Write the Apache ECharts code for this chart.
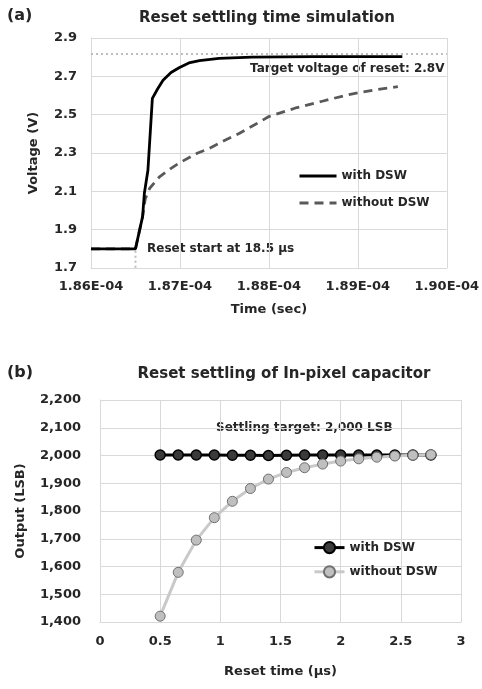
<!DOCTYPE html>
<html>
<head>
<meta charset="utf-8">
<script src="https://cdn.jsdelivr.net/npm/echarts@6/dist/echarts.min.js"></script>
<style>html,body{margin:0;padding:0;background:#fff;}#c{width:482px;height:689px;}</style>
</head>
<body>
<div id="c"></div>
<script>
// ---- Chart (a): Reset settling time simulation ----
const timeWithDSW = [1.8600e-4, 1.8650e-4, 1.8658e-4, 1.8660e-4, 1.8664e-4, 1.8669e-4, 1.8675e-4, 1.8681e-4, 1.8690e-4, 1.8699e-4, 1.8710e-4, 1.8722e-4, 1.8744e-4, 1.8781e-4, 1.8850e-4, 1.8950e-4];
const voltWithDSW = [1.80, 1.80, 1.968, 2.09, 2.21, 2.585, 2.635, 2.68, 2.72, 2.745, 2.77, 2.782, 2.794, 2.80, 2.803, 2.803];
const timeWithoutDSW = [1.8600e-4, 1.8650e-4, 1.8658e-4, 1.8661e-4, 1.8666e-4, 1.8677e-4, 1.8690e-4, 1.8700e-4, 1.8720e-4, 1.8733e-4, 1.8750e-4, 1.8767e-4, 1.8785e-4, 1.8800e-4, 1.8830e-4, 1.8860e-4, 1.8890e-4, 1.8920e-4, 1.8945e-4];
const voltWithoutDSW = [1.80, 1.80, 1.968, 2.06, 2.116, 2.176, 2.22, 2.25, 2.30, 2.324, 2.365, 2.403, 2.45, 2.49, 2.535, 2.57, 2.605, 2.63, 2.646];
const targetVoltage = 2.82;
const resetStartTime = 1.865e-4;
const seriesNamesA = ['with DSW', 'without DSW'];

// ---- Chart (b): Reset settling of In-pixel capacitor ----
const resetTimeUs = [0.5, 0.65, 0.8, 0.95, 1.1, 1.25, 1.4, 1.55, 1.7, 1.85, 2.0, 2.15, 2.3, 2.45, 2.6, 2.75];
const outputWithDSW = [2002, 2002, 2002, 2002, 2001, 2001, 2000, 2001, 2002, 2002, 2002, 2002, 2002, 2002, 2002, 2002];
const outputWithoutDSW = [1421, 1579, 1695, 1776, 1835, 1881, 1915, 1939, 1956, 1969, 1980, 1988, 1994, 1998, 2001, 2003];
const seriesNamesB = ['with DSW', 'without DSW'];

const FONT = 'DejaVu Sans';
const TXT = '#262626';
const GRID = '#d9d9d9';

function expLabel(v) {
  const parts = v.toExponential(2).split('e');
  const e = parseInt(parts[1], 10);
  return parts[0] + 'E' + (e < 0 ? '-' : '+') + String(Math.abs(e)).padStart(2, '0');
}
function commaLabel(v) {
  return Math.round(v).toString().replace(/\B(?=(\d{3})+(?!\d))/g, ',');
}
const zip = (xs, ys) => xs.map((x, i) => [x, ys[i]]);

const chart = echarts.init(document.getElementById('c'), null, {renderer: 'canvas'});
const axisLabelStyle = {color: TXT, fontFamily: FONT, fontWeight: 'bold', fontSize: 13};
const nameStyle = {color: TXT, fontFamily: FONT, fontWeight: 'bold', fontSize: 13};

chart.setOption({
  backgroundColor: '#fff',
  animation: false,
  title: [
    {text: 'Reset settling time simulation', left: 262, top: 6, textAlign: 'center',
     textStyle: {fontFamily: FONT, fontWeight: 'bold', fontSize: 15, color: TXT}},
    {text: 'Reset settling of In-pixel capacitor', left: 279, top: 362, textAlign: 'center',
     textStyle: {fontFamily: FONT, fontWeight: 'bold', fontSize: 15, color: TXT}}
  ],
  grid: [
    {left: 91, top: 38, width: 358, height: 230},
    {left: 100, top: 400, width: 361, height: 222}
  ],
  xAxis: [
    {type: 'value', gridIndex: 0, min: 1.86e-4, max: 1.90e-4, interval: 1e-6,
     name: 'Time (sec)', nameLocation: 'middle', nameGap: 35, nameTextStyle: nameStyle,
     axisLine: {lineStyle: {color: GRID}}, axisTick: {show: false},
     axisLabel: Object.assign({margin: 12, formatter: expLabel}, axisLabelStyle),
     splitLine: {show: true, lineStyle: {color: GRID}}},
    {type: 'value', gridIndex: 1, min: 0, max: 3, interval: 0.5,
     name: 'Reset time (μs)', nameLocation: 'middle', nameGap: 43, nameTextStyle: nameStyle,
     axisLine: {lineStyle: {color: GRID}}, axisTick: {show: false},
     axisLabel: Object.assign({margin: 13}, axisLabelStyle),
     splitLine: {show: true, lineStyle: {color: GRID}}}
  ],
  yAxis: [
    {type: 'value', gridIndex: 0, min: 1.7, max: 2.9, interval: 0.2,
     name: 'Voltage (V)', nameLocation: 'middle', nameGap: 51, nameTextStyle: nameStyle,
     axisLine: {show: true, lineStyle: {color: GRID}}, axisTick: {show: false},
     axisLabel: Object.assign({margin: 14, formatter: v => v.toFixed(1)}, axisLabelStyle),
     splitLine: {show: true, lineStyle: {color: GRID}}},
    {type: 'value', gridIndex: 1, min: 1400, max: 2200, interval: 100,
     name: 'Output (LSB)', nameLocation: 'middle', nameGap: 73, nameTextStyle: nameStyle,
     axisLine: {show: true, lineStyle: {color: GRID}}, axisTick: {show: false},
     axisLabel: Object.assign({margin: 19, formatter: commaLabel}, axisLabelStyle),
     splitLine: {show: true, lineStyle: {color: GRID}}}
  ],
  legend: [
    {data: seriesNamesA.map(n => ({name: n})), orient: 'vertical', left: 293, top: 165,
     itemWidth: 37, itemHeight: 14, itemGap: 15,
     itemStyle: {opacity: 0},
     lineStyle: {width: 3},
     textStyle: {fontFamily: FONT, fontWeight: 'bold', fontSize: 12, color: TXT},
     selectedMode: false},
    {data: seriesNamesB.map(n => ({name: n + ' '})), orient: 'vertical', left: 308, top: 536,
     itemWidth: 30, itemHeight: 14, itemGap: 11,
     lineStyle: {width: 3},
     textStyle: {fontFamily: FONT, fontWeight: 'bold', fontSize: 12, color: TXT},
     selectedMode: false,
     formatter: n => n.trim()}
  ],
  series: [
    {name: seriesNamesA[0], type: 'line', xAxisIndex: 0, yAxisIndex: 0,
     data: zip(timeWithDSW, voltWithDSW), symbol: 'none', smooth: false, z: 5,
     lineStyle: {color: '#000', width: 2.8}, itemStyle: {color: '#000'},
     markLine: {silent: true, symbol: 'none', label: {show: false},
       lineStyle: {color: '#bdbdbd', width: 2, type: [2, 3]},
       data: [{yAxis: targetVoltage}]}},
    {name: seriesNamesA[1], type: 'line', xAxisIndex: 0, yAxisIndex: 0,
     data: zip(timeWithoutDSW, voltWithoutDSW), symbol: 'none', smooth: false, z: 4,
     lineStyle: {color: '#595959', width: 2.8, type: [9, 6]}, itemStyle: {color: '#595959'}},
    {name: 'reset start', type: 'line', xAxisIndex: 0, yAxisIndex: 0,
     data: [[resetStartTime, 1.79], [resetStartTime, 1.7]], symbol: 'none', z: 3,
     lineStyle: {color: '#bdbdbd', width: 2, type: [2, 3]}},
    {name: seriesNamesB[0] + ' ', type: 'line', xAxisIndex: 1, yAxisIndex: 1,
     data: zip(resetTimeUs, outputWithDSW), symbol: 'circle', symbolSize: 10, showSymbol: true,
     lineStyle: {color: '#000', width: 3},
     itemStyle: {color: '#3a3a3a', borderColor: '#000', borderWidth: 1.5}},
    {name: seriesNamesB[1] + ' ', type: 'line', xAxisIndex: 1, yAxisIndex: 1,
     data: zip(resetTimeUs, outputWithoutDSW), symbol: 'circle', symbolSize: 10, showSymbol: true,
     lineStyle: {color: '#c9c9c9', width: 3},
     itemStyle: {color: '#bfbfbf', borderColor: '#6f6f6f', borderWidth: 1}}
  ],
  graphic: [
    {type: 'text', left: 7, top: 8, style: {text: '(a)', font: 'bold 16px "DejaVu Sans"', fill: TXT}},
    {type: 'text', left: 7, top: 365, style: {text: '(b)', font: 'bold 16px "DejaVu Sans"', fill: TXT}},
    {type: 'text', x: 250, y: 69, style: {text: 'Target voltage of reset: 2.8V', font: 'bold 12px "DejaVu Sans"', fill: TXT, verticalAlign: 'middle'}},
    {type: 'text', x: 147, y: 249, style: {text: 'Reset start at 18.5 μs', font: 'bold 12px "DejaVu Sans"', fill: TXT, verticalAlign: 'middle'}},
    {type: 'text', x: 216, y: 427.5, style: {text: 'Settling target: 2,000 LSB', font: 'bold 12px "DejaVu Sans"', fill: TXT, verticalAlign: 'middle'}}
  ]
});
</script>
</body>
</html>
